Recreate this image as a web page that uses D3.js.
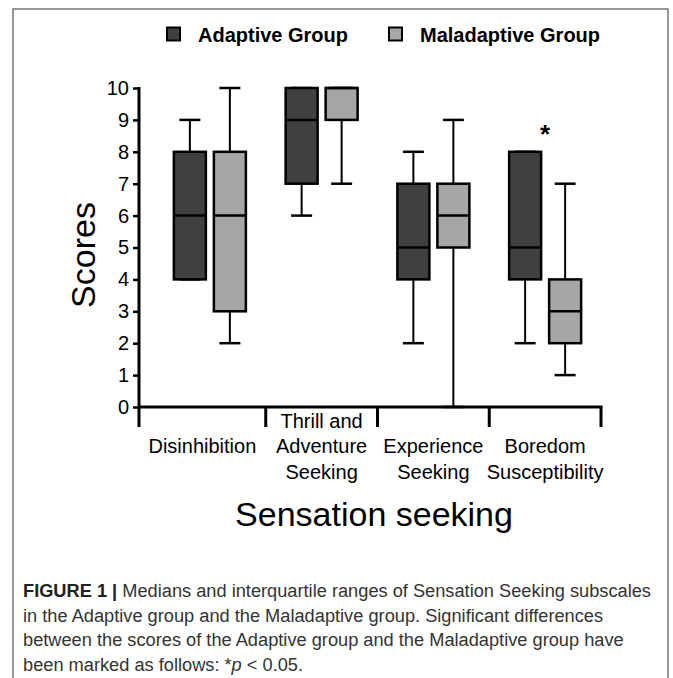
<!DOCTYPE html>
<html>
<head>
<meta charset="utf-8">
<script src="https://cdn.jsdelivr.net/npm/d3@7"></script>
<style>
  html, body { margin: 0; padding: 0; background: #fff; }
  svg { display: block; }
  text { font-family: "Liberation Sans", Arial, sans-serif; }
</style>
</head>
<body>
<svg id="chart" width="673" height="678"></svg>
<script>
// ---------- data ----------
const categories = ["Disinhibition", "Thrill and Adventure Seeking", "Experience Seeking", "Boredom Susceptibility"];
const categoryLabelLines = [["Disinhibition"], ["Thrill and", "Adventure", "Seeking"], ["Experience", "Seeking"], ["Boredom", "Susceptibility"]];
const groups = ["Adaptive Group", "Maladaptive Group"];
// [min, Q1, median, Q3, max] per category
const adaptive    = [[4, 4, 6, 8, 9], [6, 7, 9, 10, 10], [2, 4, 5, 7, 8], [2, 4, 5, 8, 8]];
const maladaptive = [[2, 3, 6, 8, 10], [7, 9, 10, 10, 10], [0, 5, 6, 7, 9], [1, 2, 3, 4, 7]];
const significant = [false, false, false, true];
const yTicks = [0, 1, 2, 3, 4, 5, 6, 7, 8, 9, 10];
const captionLines = [
  [{t: "FIGURE 1 | ", b: true}, {t: "Medians and interquartile ranges of Sensation Seeking subscales"}],
  [{t: "in the Adaptive group and the Maladaptive group. Significant differences"}],
  [{t: "between the scores of the Adaptive group and the Maladaptive group have"}],
  [{t: "been marked as follows: *"}, {t: "p", i: true}, {t: " < 0.05."}]
];

// ---------- layout ----------
const colors = ["#404040", "#a6a6a6"];
const svg = d3.select("#chart");

// frame
svg.append("rect").attr("x", 13).attr("y", 9).attr("width", 655).attr("height", 720)
  .attr("fill", "none").attr("stroke", "#777").attr("stroke-width", 1.5);

const axisX = 139, axisBottom = 407, sepBottom = 427;
const y = d3.scaleLinear().domain([0, 10]).range([407, 88]);
const x = d3.scaleBand().domain(categories).range([154, 601]).padding(0);
const g = d3.scaleBand().domain(groups).range([-36, 36]).paddingInner(0.2).paddingOuter(0);

// legend
const legX = [167, 389], legTX = [198, 420];
groups.forEach((name, i) => {
  svg.append("rect").attr("x", legX[i]).attr("y", 27.5).attr("width", 13).attr("height", 13)
    .attr("fill", colors[i]).attr("stroke", "#000").attr("stroke-width", 2);
  svg.append("text").attr("x", legTX[i]).attr("y", 42).attr("font-size", 20)
    .attr("font-weight", "bold").attr("fill", "#000").text(name);
});

// y axis
const yAxis = svg.append("g").attr("transform", `translate(${axisX},0)`)
  .call(d3.axisLeft(y).tickValues(yTicks).tickSize(6).tickPadding(4).tickSizeOuter(0));
yAxis.select(".domain").remove();
yAxis.selectAll(".tick line").attr("stroke", "#000").attr("stroke-width", 2.5);
yAxis.selectAll(".tick text").attr("font-size", 20).attr("fill", "#000")
  .attr("font-family", "'Liberation Sans', Arial, sans-serif");
svg.append("line").attr("x1", axisX).attr("x2", axisX).attr("y1", y(10) - 1).attr("y2", sepBottom)
  .attr("stroke", "#000").attr("stroke-width", 3);

// x axis line and separators
const seps = [axisX].concat(categories.map(c => x(c) + x.bandwidth()));
svg.append("line").attr("x1", axisX).attr("x2", seps[seps.length - 1] + 1.5)
  .attr("y1", axisBottom).attr("y2", axisBottom).attr("stroke", "#000").attr("stroke-width", 3);
seps.slice(1).forEach(s => {
  svg.append("line").attr("x1", s).attr("x2", s).attr("y1", axisBottom).attr("y2", sepBottom)
    .attr("stroke", "#000").attr("stroke-width", 3);
});

// category labels
categoryLabelLines.forEach((lines, i) => {
  const cx = (seps[i] + seps[i + 1]) / 2;
  const t = svg.append("text").attr("text-anchor", "middle").attr("font-size", 20).attr("fill", "#000");
  const start = 453 - Math.max(0, lines.length - 2) * 25.5;
  lines.forEach((ln, j) => {
    t.append("tspan").attr("x", cx).attr("y", start + j * 25.5).text(ln);
  });
});

// boxes
const series = [adaptive, maladaptive];
groups.forEach((grp, gi) => {
  categories.forEach((cat, ci) => {
    const [mn, q1, md, q3, mx] = series[gi][ci];
    const cx = x(cat) + x.bandwidth() / 2 + g(grp) + g.bandwidth() / 2;
    const w = g.bandwidth();
    const bg = svg.append("g");
    bg.append("line").attr("x1", cx).attr("x2", cx).attr("y1", y(q3)).attr("y2", y(mx))
      .attr("stroke", "#000").attr("stroke-width", 2);
    bg.append("line").attr("x1", cx).attr("x2", cx).attr("y1", y(q1)).attr("y2", y(mn))
      .attr("stroke", "#000").attr("stroke-width", 2);
    [mn, mx].forEach(v => {
      bg.append("line").attr("x1", cx - 10.5).attr("x2", cx + 10.5).attr("y1", y(v)).attr("y2", y(v))
        .attr("stroke", "#000").attr("stroke-width", 2.5);
    });
    bg.append("rect").attr("x", cx - w / 2).attr("y", y(q3)).attr("width", w).attr("height", y(q1) - y(q3))
      .attr("fill", colors[gi]).attr("stroke", "#000").attr("stroke-width", 2.5);
    bg.append("line").attr("x1", cx - w / 2).attr("x2", cx + w / 2).attr("y1", y(md)).attr("y2", y(md))
      .attr("stroke", "#000").attr("stroke-width", 2.5);
  });
});

// significance marks
categories.forEach((cat, ci) => {
  if (!significant[ci]) return;
  const top = Math.max(adaptive[ci][4], maladaptive[ci][4]);
  svg.append("text").attr("x", x(cat) + x.bandwidth() / 2).attr("y", y(top) - 3)
    .attr("text-anchor", "middle").attr("font-size", 26).attr("font-weight", "bold").attr("fill", "#000")
    .attr("dy", -6).text("*");
});

// axis titles
svg.append("text").attr("transform", "translate(95,255) rotate(-90)").attr("text-anchor", "middle")
  .attr("font-size", 34).attr("fill", "#000").text("Scores");
svg.append("text").attr("x", 374).attr("y", 526).attr("text-anchor", "middle")
  .attr("font-size", 34).attr("fill", "#000").text("Sensation seeking");

// caption: uniform horizontal compression so that line 1 spans the reference width
const capTexts = captionLines.map((parts, i) => {
  const t = svg.append("text").attr("x", 23).attr("y", 597 + i * 24.7).attr("font-size", 18)
    .attr("fill", "#333");
  parts.forEach(p => {
    const s = t.append("tspan").text(p.t);
    if (p.b) s.attr("font-weight", "bold").attr("fill", "#222");
    if (p.i) s.attr("font-style", "italic");
  });
  return t;
});
const ratio = 628 / capTexts[0].node().getComputedTextLength();
capTexts.forEach(t => {
  const w = t.node().getComputedTextLength();
  t.attr("textLength", w * ratio).attr("lengthAdjust", "spacingAndGlyphs");
});
</script>
</body>
</html>
